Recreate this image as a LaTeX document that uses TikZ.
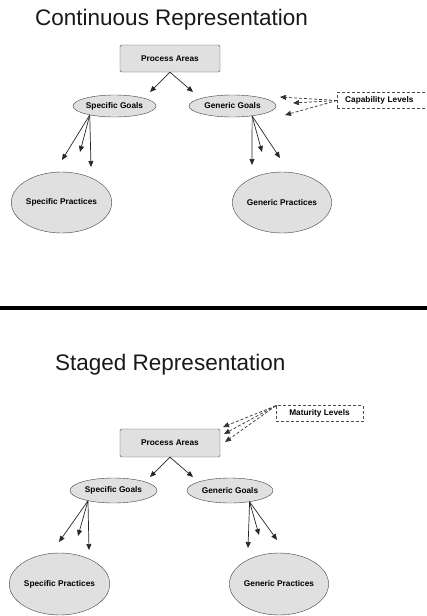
\documentclass[tikz,border=0pt]{standalone}
\usepackage{fontspec}
\setmainfont{Liberation Sans}
\usepackage{tikz}
\usetikzlibrary{arrows.meta,shapes.geometric,positioning}
\tikzset{CMMI style/.style={x=1pt,y=-1pt,>={Triangle[length=6pt,width=5pt]}}}
\tikzset{
	heading/.style={anchor=base west,inner sep=0,font=\fontsize{22.5}{27}\selectfont,text=black!90},
	area/.style={draw=black!70,fill=black!12,rounded corners=1.5pt,minimum width=100pt,minimum height=27pt,inner sep=0,font=\boxfont},
	goal/.style={ellipse,draw=black!75,fill=black!12,minimum height=22pt,inner sep=0,font=\boxfont},
	practice/.style={ellipse,draw=black!75,fill=black!12,minimum width=93pt,minimum height=61pt,inner sep=0,font=\boxfont},
	levels/.style={draw=black!70,dashed,dash pattern=on 3pt off 2pt,fill=white,minimum height=16pt,inner sep=0,font=\boxfont},
	link/.style={->,black!85,line width=0.7pt},
	dlink/.style={->,black!80,line width=0.7pt,dash pattern=on 3pt off 2pt}
}
\newcommand{\boxfont}{\fontsize{8.3}{10}\selectfont\bfseries}

\begin{document}
\begin{tikzpicture}[CMMI style]
	\useasboundingbox (0,0) rectangle (427,616);
	
	\node[heading] (title1) at (35,25) {Continuous Representation};
	
	\node[area] (pa1) at (170,58.5) {Process Areas};
	\node[goal, minimum width=83pt] (sg1) at (114.5,106) {Specific Goals};
	\node[goal, minimum width=87pt] (gg1) at (232.5,106) {Generic Goals};
	\node[practice] (sp1) at (61.5,202.5) {Specific Practices};
	\node[practice] (gp1) at (282,202.5) {Generic Practices};
	\node[levels, anchor=west, text width=80pt, inner xsep=8pt, align=left] (cl) at (337,100.5) {Capability Levels};
	
	\coordinate (a1) at (150,92);
	\coordinate (a2) at (193,92);
	\coordinate (s1) at (62,160);
	\coordinate (s2) at (80,152);
	\coordinate (s3) at (91,167);
	\coordinate (g1) at (252,165);
	\coordinate (g2) at (262,152);
	\coordinate (g3) at (280,158);
	\coordinate (c1) at (280,97);
	\coordinate (c2) at (293,103);
	\coordinate (c3) at (285,115);
	
	\draw[link] (pa1.south) -- (a1);
	\draw[link] (pa1.south) -- (a2);
	\draw[link] (sg1.-160) -- (s1);
	\draw[link] (sg1.-160) -- (s2);
	\draw[link] (sg1.-160) -- (s3);
	\draw[link] (gg1.-27) -- (g1);
	\draw[link] (gg1.-27) -- (g2);
	\draw[link] (gg1.-27) -- (g3);
	\draw[dlink] (cl.west) -- (c1);
	\draw[dlink] (cl.west) -- (c2);
	\draw[dlink] (cl.west) -- (c3);
	
	
	\fill[black] (0,306) rectangle (427,310);
	
	
	\node[heading] (title2) at (55,370) {Staged Representation};
	
	\node[levels, minimum width=87pt] (ml) at (319.5,413.5) {Maturity Levels};
	\node[area, minimum height=28pt] (pa2) at (170,443) {Process Areas};
	\node[goal, minimum width=87pt, minimum height=25pt] (sg2) at (113.5,490.5) {Specific Goals};
	\node[goal, minimum width=86pt, minimum height=25pt] (gg2) at (230,490.5) {Generic Goals};
	\node[practice, minimum height=62pt] (sp2) at (59.5,584) {Specific Practices};
	\node[practice, minimum width=94pt, minimum height=62pt] (gp2) at (279,584) {Generic Practices};
	
	\coordinate (b1) at (150,477);
	\coordinate (b2) at (193,477);
	\coordinate (t1) at (59,542);
	\coordinate (t2) at (78,536);
	\coordinate (t3) at (89,550);
	\coordinate (h1) at (248,548);
	\coordinate (h2) at (259,535);
	\coordinate (h3) at (277,540);
	\coordinate (m1) at (223,427);
	\coordinate (m2) at (224,434);
	\coordinate (m3) at (225,442);
	
	\draw[link] (pa2.south) -- (b1);
	\draw[link] (pa2.south) -- (b2);
	\draw[link] (sg2.-158) -- (t1);
	\draw[link] (sg2.-158) -- (t2);
	\draw[link] (sg2.-158) -- (t3);
	\draw[link] (gg2.-30) -- (h1);
	\draw[link] (gg2.-30) -- (h2);
	\draw[link] (gg2.-30) -- (h3);
	\draw[dlink] (ml.170) -- (m1);
	\draw[dlink] (ml.170) -- (m2);
	\draw[dlink] (ml.170) -- (m3);
\end{tikzpicture}
\end{document}
